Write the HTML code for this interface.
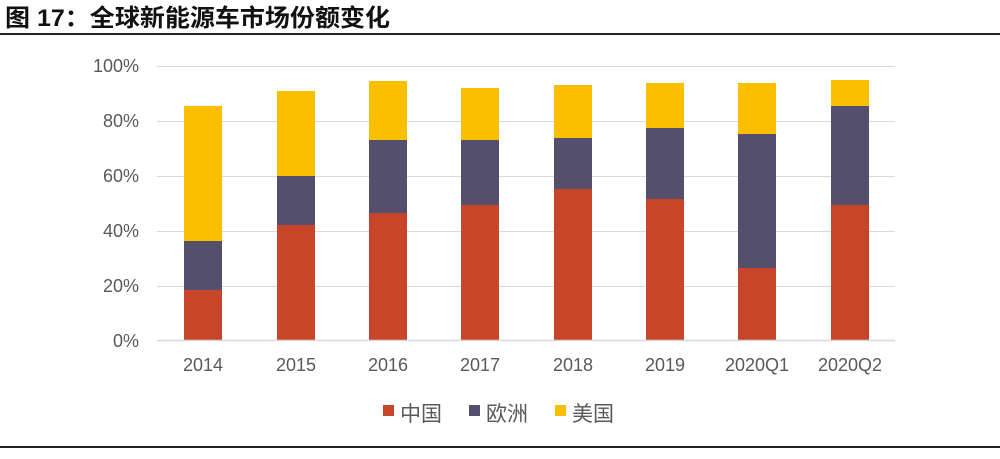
<!DOCTYPE html>
<html><head><meta charset="utf-8"><style>
body{margin:0;background:#fff;width:1000px;height:454px;overflow:hidden;}
svg text{font-family:"Liberation Sans","Noto Sans CJK SC",sans-serif;}
</style></head><body>
<svg width="1000" height="454" xmlns="http://www.w3.org/2000/svg">
<text x="5" y="26" font-size="24" font-weight="bold" fill="#111" textLength="385" lengthAdjust="spacingAndGlyphs">图 17：全球新能源车市场份额变化</text>
<rect x="0" y="33" width="1000" height="2" fill="#222"/>
<g stroke="#d9d9d9" stroke-width="1">
<line x1="157" y1="66.5" x2="895" y2="66.5"/>
<line x1="157" y1="121.5" x2="895" y2="121.5"/>
<line x1="157" y1="176.5" x2="895" y2="176.5"/>
<line x1="157" y1="231.5" x2="895" y2="231.5"/>
<line x1="157" y1="286.5" x2="895" y2="286.5"/>
</g>
<g font-size="18" fill="#595959" text-anchor="end">
<text x="139" y="72">100%</text><text x="139" y="127">80%</text><text x="139" y="182">60%</text>
<text x="139" y="237">40%</text><text x="139" y="292">20%</text><text x="139" y="347">0%</text>
</g>
<g>
<rect x="184" y="290" width="38" height="50" fill="#c8452a"/><rect x="184" y="241" width="38" height="49" fill="#554f6e"/><rect x="184" y="106" width="38" height="135" fill="#fcbf00"/>
<rect x="277" y="225" width="38" height="115" fill="#c8452a"/><rect x="277" y="176" width="38" height="49" fill="#554f6e"/><rect x="277" y="91" width="38" height="85" fill="#fcbf00"/>
<rect x="369" y="213" width="38" height="127" fill="#c8452a"/><rect x="369" y="140" width="38" height="73" fill="#554f6e"/><rect x="369" y="81" width="38" height="59" fill="#fcbf00"/>
<rect x="461" y="205" width="38" height="135" fill="#c8452a"/><rect x="461" y="140" width="38" height="65" fill="#554f6e"/><rect x="461" y="88" width="38" height="52" fill="#fcbf00"/>
<rect x="554" y="189" width="38" height="151" fill="#c8452a"/><rect x="554" y="138" width="38" height="51" fill="#554f6e"/><rect x="554" y="85" width="38" height="53" fill="#fcbf00"/>
<rect x="646" y="199" width="38" height="141" fill="#c8452a"/><rect x="646" y="128" width="38" height="71" fill="#554f6e"/><rect x="646" y="83" width="38" height="45" fill="#fcbf00"/>
<rect x="738" y="268" width="38" height="72" fill="#c8452a"/><rect x="738" y="134" width="38" height="134" fill="#554f6e"/><rect x="738" y="83" width="38" height="51" fill="#fcbf00"/>
<rect x="831" y="205" width="38" height="135" fill="#c8452a"/><rect x="831" y="106" width="38" height="99" fill="#554f6e"/><rect x="831" y="80" width="38" height="26" fill="#fcbf00"/>
</g>
<line x1="157" y1="340.5" x2="895" y2="340.5" stroke="#d9d9d9" stroke-width="1.5"/>
<g font-size="18" fill="#595959" text-anchor="middle">
<text x="203" y="371">2014</text><text x="296" y="371">2015</text><text x="388" y="371">2016</text><text x="480" y="371">2017</text>
<text x="573" y="371">2018</text><text x="665" y="371">2019</text><text x="757" y="371">2020Q1</text><text x="850" y="371">2020Q2</text>
</g>
<g font-size="21" fill="#595959">
<rect x="383" y="405" width="11" height="11" fill="#c8452a"/><text x="400" y="421">中国</text>
<rect x="469" y="405" width="11" height="11" fill="#554f6e"/><text x="486" y="421">欧洲</text>
<rect x="555" y="405" width="11" height="11" fill="#fcbf00"/><text x="572" y="421">美国</text>
</g>
<rect x="0" y="446" width="1000" height="2" fill="#222"/>
</svg>
</body></html>
